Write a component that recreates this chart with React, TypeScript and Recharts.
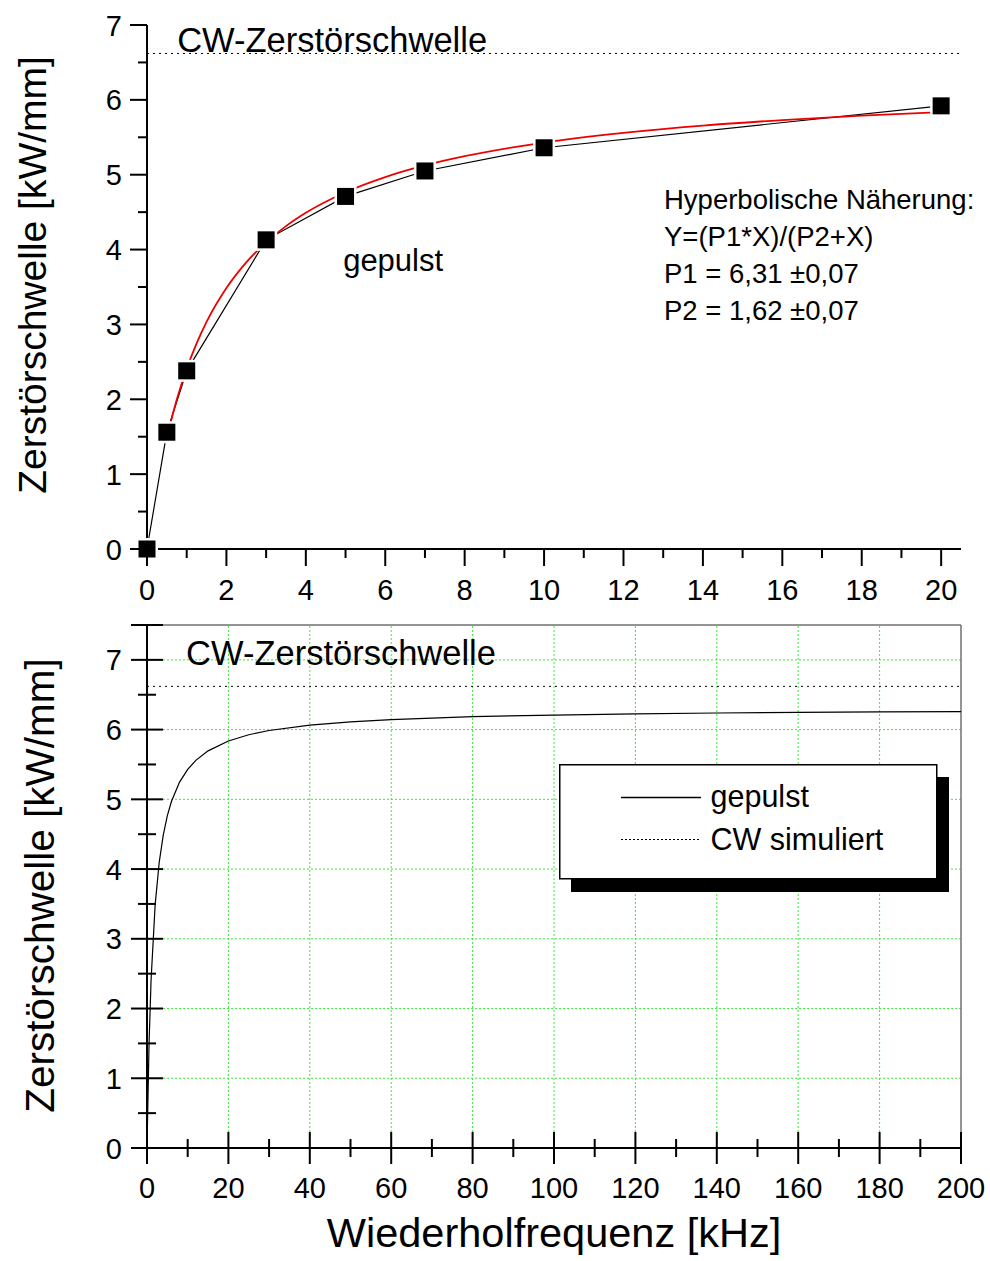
import React from 'react';
import {
  ComposedChart,
  Line,
  XAxis,
  YAxis,
  ReferenceLine,
  ReferenceDot,
  Legend,
} from 'recharts';

const FONT = 'Arial, "Liberation Sans", Helvetica, sans-serif';

// Gemessene Zerstörschwelle im Pulsbetrieb (kHz -> kW/mm)
const messFrequenz = [0, 0.5, 1, 3, 5, 7, 10, 20];
const messSchwelle = [0, 1.56, 2.38, 4.13, 4.71, 5.05, 5.36, 5.92];

// Hyperbolische Näherung Y = P1*X/(P2+X), P1 = 6,31, P2 = 1,62 (tabelliert)
const fitFrequenz = [0.5, 0.75, 1, 1.25, 1.5, 2, 2.5, 3, 3.5, 4, 5, 6, 7, 8, 10, 12, 14, 16, 18, 20];
const fitSchwelle = [
  1.488, 1.997, 2.408, 2.748, 3.034, 3.486, 3.829, 4.097, 4.313, 4.491,
  4.766, 4.969, 5.124, 5.247, 5.43, 5.559, 5.656, 5.73, 5.789, 5.837,
];

// Verlauf bis 200 kHz
const simFrequenz = [
  0, 0.5, 1, 2, 3, 4, 5, 6, 8, 10, 12, 15, 20, 25, 30, 40, 50, 60, 80, 100, 120, 140, 160, 180, 200,
];
const simSchwelle = [
  0, 1.488, 2.408, 3.486, 4.097, 4.491, 4.766, 4.969, 5.247, 5.43, 5.559, 5.695, 5.837, 5.926,
  5.987, 6.064, 6.112, 6.144, 6.185, 6.209, 6.226, 6.238, 6.247, 6.254, 6.259,
];

// CW-Zerstörschwelle
const cwSchwelle = 6.62;

// Achsenteilungen
const topXTicks = [0, 1, 2, 3, 4, 5, 6, 7, 8, 9, 10, 11, 12, 13, 14, 15, 16, 17, 18, 19, 20];
const topYTicks = [0, 0.5, 1, 1.5, 2, 2.5, 3, 3.5, 4, 4.5, 5, 5.5, 6, 6.5, 7];
const bottomXTicks = [0, 10, 20, 30, 40, 50, 60, 70, 80, 90, 100, 110, 120, 130, 140, 150, 160, 170, 180, 190, 200];
const bottomYTicks = [0, 0.5, 1, 1.5, 2, 2.5, 3, 3.5, 4, 4.5, 5, 5.5, 6, 6.5, 7, 7.5];
const gridX = [20, 40, 60, 80, 100, 120, 140, 160, 180];
const gridY = [1, 2, 3, 4, 5, 6, 7];

const fitNote = ['Hyperbolische Näherung:', 'Y=(P1*X)/(P2+X)', 'P1 = 6,31 ±0,07', 'P2 = 1,62 ±0,07'];
const legendItems = [
  { label: 'gepulst', dash: undefined as string | undefined },
  { label: 'CW simuliert', dash: '2 2' },
];

const messData = messFrequenz.map((x, i) => ({ x, y: messSchwelle[i] }));
const fitData = fitFrequenz.map((x, i) => ({ x, y: fitSchwelle[i] }));
const simData = simFrequenz.map((x, i) => ({ x, y: simSchwelle[i] }));

const textStyle = { fontFamily: FONT, fill: '#000' };
const TICK_FONT = 29;

// --- Achsenticks --------------------------------------------------------

const TopXTick = (props: any) => {
  const { x, y, payload } = props;
  const v = payload.value as number;
  const major = v % 2 === 0;
  return (
    <g>
      <line x1={x} x2={x} y1={y} y2={y + (major ? 17 : 9)} stroke="#000" strokeWidth={2} />
      {major && (
        <text x={x} y={y + 51} textAnchor="middle" fontSize={TICK_FONT} {...textStyle}>
          {v}
        </text>
      )}
    </g>
  );
};

const TopYTick = (props: any) => {
  const { x, y, payload } = props;
  const v = payload.value as number;
  const major = Number.isInteger(v);
  return (
    <g>
      <line x1={x - (major ? 17 : 9)} x2={x} y1={y} y2={y} stroke="#000" strokeWidth={2} />
      {major && (
        <text x={x - 25} y={y + 10.5} textAnchor="end" fontSize={TICK_FONT} {...textStyle}>
          {v}
        </text>
      )}
    </g>
  );
};

const BottomXTick = (props: any) => {
  const { x, y, payload } = props;
  const v = payload.value as number;
  const major = v % 20 === 0;
  const len = major ? 16 : 9;
  return (
    <g>
      <line x1={x} x2={x} y1={y - len} y2={y + len} stroke="#000" strokeWidth={2} />
      {major && (
        <text x={x} y={y + 50} textAnchor="middle" fontSize={TICK_FONT} {...textStyle}>
          {v}
        </text>
      )}
    </g>
  );
};

const BottomYTick = (props: any) => {
  const { x, y, payload } = props;
  const v = payload.value as number;
  const major = Number.isInteger(v) || v === 7.5;
  const len = major ? 16 : 9;
  return (
    <g>
      <line x1={x - len} x2={x + len} y1={y} y2={y} stroke="#000" strokeWidth={2} />
      {Number.isInteger(v) && (
        <text x={x - 25} y={y + 10.5} textAnchor="end" fontSize={TICK_FONT} {...textStyle}>
          {v}
        </text>
      )}
    </g>
  );
};

// --- Beschriftungen -----------------------------------------------------

const yTitle = (baseX: number, shift: number, size: number) => (props: any) => {
  const vb = props.viewBox;
  const cy = vb.y + vb.height / 2 + shift;
  return (
    <text
      x={baseX}
      y={cy}
      transform={`rotate(-90 ${baseX} ${cy})`}
      textAnchor="middle"
      fontSize={size}
      {...textStyle}
    >
      Zerstörschwelle [kW/mm]
    </text>
  );
};

const xTitle = (props: any) => {
  const vb = props.viewBox;
  return (
    <text x={vb.x + vb.width / 2} y={vb.y + 99} textAnchor="middle" fontSize={41.5} {...textStyle}>
      Wiederholfrequenz [kHz]
    </text>
  );
};

const note = (lines: string[], size: number, lineGap = 37) => (props: any) => {
  const vb = props.viewBox;
  return (
    <text x={vb.x} y={vb.y} fontSize={size} {...textStyle}>
      {lines.map((l, i) => (
        <tspan key={l} x={vb.x} dy={i === 0 ? 0 : lineGap}>
          {l}
        </tspan>
      ))}
    </text>
  );
};

const Quadrat = (props: any) => {
  const { cx, cy, index } = props;
  if (cx == null || cy == null) return null;
  return (
    <g key={`q-${index}`}>
      <rect x={cx - 11} y={cy - 11} width={22} height={22} fill="#fff" />
      <rect x={cx - 8.5} y={cy - 8.5} width={17} height={17} fill="#000" />
    </g>
  );
};

const LegendBox = () => (
  <svg width={392} height={130} style={{ display: 'block' }}>
    <rect x={12} y={13} width={378} height={115} fill="#000" />
    <rect x={0.75} y={0.75} width={377} height={114} fill="#fff" stroke="#000" strokeWidth={1.5} />
    {legendItems.map((it, i) => (
      <g key={it.label}>
        <line
          x1={62}
          x2={142}
          y1={33.5 + i * 42}
          y2={33.5 + i * 42}
          stroke="#000"
          strokeWidth={it.dash ? 1 : 1.3}
          strokeDasharray={it.dash}
        />
        <text x={151.5} y={43 + i * 43} fontSize={30.5} {...textStyle}>
          {it.label}
        </text>
      </g>
    ))}
  </svg>
);

export default function App() {
  return (
    <div
      style={{
        position: 'absolute',
        left: 0,
        top: 0,
        width: 990,
        height: 1261,
        background: '#fff',
        overflow: 'hidden',
      }}
    >
      {/* Messwerte mit hyperbolischer Näherung */}
      <div style={{ position: 'absolute', left: 0, top: 0 }}>
        <ComposedChart width={990} height={610} margin={{ top: 25, right: 29, bottom: 0, left: 0 }}>
          <ReferenceLine y={cwSchwelle} stroke="#000" strokeWidth={1} strokeDasharray="2 4" />
          <ReferenceDot x={0.76} y={6.64} r={0} fill="none" stroke="none" label={note(['CW-Zerstörschwelle'], 34.5)} />
          <ReferenceDot x={4.94} y={3.72} r={0} fill="none" stroke="none" label={note(['gepulst'], 31)} />
          <ReferenceDot x={13.02} y={4.54} r={0} fill="none" stroke="none" label={note(fitNote, 27.5)} />
          <Line
            data={messData}
            dataKey="y"
            type="linear"
            stroke="#000"
            strokeWidth={1.2}
            dot={<Quadrat />}
            activeDot={false}
            isAnimationActive={false}
          />
          <Line
            data={fitData}
            dataKey="y"
            type="monotone"
            stroke="#ee0000"
            strokeWidth={1.8}
            dot={false}
            activeDot={false}
            isAnimationActive={false}
          />
          <XAxis
            dataKey="x"
            type="number"
            domain={[0, 20.5]}
            ticks={topXTicks}
            interval={0}
            height={61}
            tickSize={0}
            tickMargin={0}
            tickLine={false}
            axisLine={{ stroke: '#000', strokeWidth: 2 }}
            tick={<TopXTick />}
          />
          <YAxis
            type="number"
            domain={[0, 7]}
            ticks={topYTicks}
            interval={0}
            width={147}
            tickSize={0}
            tickMargin={0}
            tickLine={false}
            axisLine={{ stroke: '#000', strokeWidth: 2 }}
            tick={<TopYTick />}
            label={yTitle(46, -12, 39)}
          />
        </ComposedChart>
      </div>

      {/* Verlauf bis 200 kHz */}
      <div style={{ position: 'absolute', left: 0, top: 610 }}>
        <ComposedChart width={990} height={651} margin={{ top: 15, right: 29, bottom: 0, left: 0 }}>
          {gridX.map((v) => (
            <ReferenceLine key={`gx${v}`} x={v} stroke="#3ee83e" strokeWidth={1} strokeDasharray="2 2" />
          ))}
          {gridY.map((v) => (
            <ReferenceLine key={`gy${v}`} y={v} stroke="#3ee83e" strokeWidth={1} strokeDasharray="2 2" />
          ))}
          <ReferenceLine y={7.5} stroke="#707070" strokeWidth={1.5} />
          <ReferenceLine x={200} stroke="#707070" strokeWidth={1.5} />
          <ReferenceLine y={cwSchwelle} stroke="#000" strokeWidth={1} strokeDasharray="2 4" />
          <ReferenceDot x={9.6} y={6.93} r={0} fill="none" stroke="none" label={note(['CW-Zerstörschwelle'], 34.5)} />
          <Line
            data={simData}
            dataKey="y"
            type="linear"
            stroke="#000"
            strokeWidth={1.2}
            dot={false}
            activeDot={false}
            isAnimationActive={false}
          />
          <XAxis
            dataKey="x"
            type="number"
            domain={[0, 200]}
            ticks={bottomXTicks}
            interval={0}
            height={113}
            tickSize={0}
            tickMargin={0}
            tickLine={false}
            axisLine={{ stroke: '#000', strokeWidth: 2 }}
            tick={<BottomXTick />}
            label={xTitle}
          />
          <YAxis
            type="number"
            domain={[0, 7.5]}
            ticks={bottomYTicks}
            interval={0}
            width={147}
            tickSize={0}
            tickMargin={0}
            tickLine={false}
            axisLine={{ stroke: '#000', strokeWidth: 2 }}
            tick={<BottomYTick />}
            label={yTitle(54, -1, 40.5)}
          />
          <Legend
            layout="horizontal"
            verticalAlign="middle"
            align="center"
            content={() => <LegendBox />}
            wrapperStyle={{ left: 559, top: 154, width: 392, height: 130, right: 'auto', bottom: 'auto' }}
          />
        </ComposedChart>
      </div>
    </div>
  );
}
